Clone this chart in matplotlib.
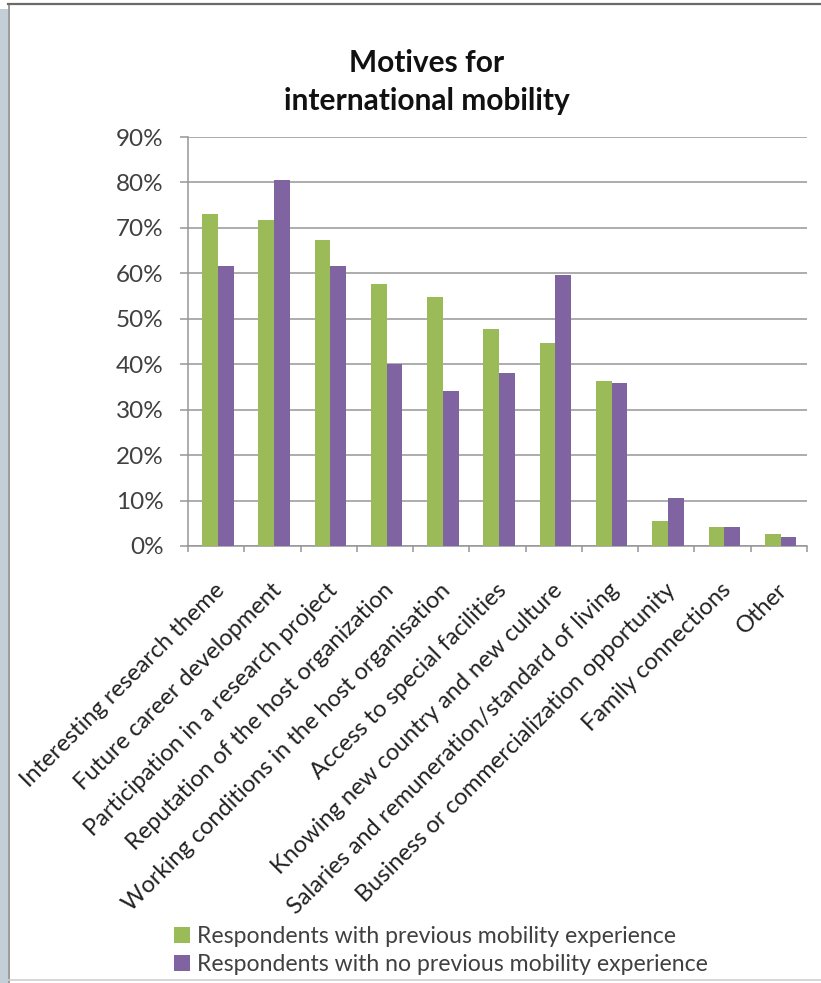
import matplotlib
matplotlib.use("Agg")
import matplotlib.pyplot as plt
import numpy as np
from matplotlib.patches import Rectangle
from matplotlib.lines import Line2D
from matplotlib.ticker import MultipleLocator, FuncFormatter
import matplotlib.transforms as mtransforms

plt.rcParams['font.family'] = ['Lato', 'DejaVu Sans']

categories = [
    "Interesting research theme",
    "Future career development",
    "Participation in a research project",
    "Reputation of the host organization",
    "Working conditions in the host organisation",
    "Access to special facilities",
    "Knowing new country and new culture",
    "Salaries and remuneration/standard of living",
    "Business or commercialization opportunity",
    "Family connections",
    "Other",
]
previous_mobility = [73.0, 71.7, 67.3, 57.7, 54.8, 47.8, 44.7, 36.4, 5.5, 4.1, 2.6]
no_previous_mobility = [61.6, 80.5, 61.6, 40.1, 34.0, 38.0, 59.6, 35.8, 10.5, 4.1, 2.0]
series_names = [
    "Respondents with previous mobility experience",
    "Respondents with no previous mobility experience",
]
title_text = "Motives for\ninternational mobility"

green = "#9BBB59"
purple = "#8064A2"
text_col = "#404040"
grid_col = "#969696"

W, H = 821, 983
fig = plt.figure(figsize=(W / 100, H / 100), dpi=100)
fig.patch.set_facecolor("white")

# window frame: blue-grey strip on the left, dark top rule, light bottom rule
fig.add_artist(Rectangle((0, 0), 8 / W, (H - 9) / H, transform=fig.transFigure,
                         facecolor="#C4CED7", edgecolor="none"))
fig.add_artist(Line2D([8.5 / W, 8.5 / W], [0, 1 - 4 / H], transform=fig.transFigure,
                      color="#8A8A8A", lw=1.2))
fig.add_artist(Line2D([8 / W, 1], [1 - 3.5 / H, 1 - 3.5 / H], transform=fig.transFigure,
                      color="#6A6A6A", lw=1.6))
fig.add_artist(Line2D([8 / W, 1], [3 / H, 3 / H], transform=fig.transFigure,
                      color="#D0D0D0", lw=1.2))

left, right = 188 / W, 807 / W
bottom, top = 1 - 546 / H, 1 - 137 / H
ax = fig.add_axes([left, bottom, right - left, top - bottom])

x = np.arange(len(categories))
bw = 0.28
ax.bar(x - bw / 2 + 0.03, previous_mobility, width=bw, color=green, zorder=3,
       label=series_names[0])
ax.bar(x + bw / 2 + 0.03, no_previous_mobility, width=bw, color=purple, zorder=3,
       label=series_names[1])

ax.set_xlim(-0.5, len(categories) - 0.5)
ax.set_ylim(0, 90)
ax.yaxis.set_major_locator(MultipleLocator(10))
ax.yaxis.set_major_formatter(FuncFormatter(lambda v, p: f"{int(round(v))}%"))
ax.yaxis.grid(True, color=grid_col, lw=1.1, zorder=0)
ax.set_axisbelow(True)

for s in ["top", "right"]:
    ax.spines[s].set_visible(False)
for s in ["left", "bottom"]:
    ax.spines[s].set_color(grid_col)
    ax.spines[s].set_linewidth(1.1)

ax.tick_params(axis="y", length=5.5, width=1.1, color=grid_col, labelsize=17.5,
               labelcolor=text_col, pad=12)
# category boundary ticks on the x axis
ax.set_xticks(np.arange(len(categories) + 1) - 0.5, minor=True)
ax.tick_params(axis="x", which="minor", length=4.5, width=1.1, color=grid_col)
ax.set_xticks(x)
ax.set_xticklabels(categories, rotation=45, ha="right", va="top",
                   rotation_mode="anchor", fontsize=17, color="#222222")
ax.tick_params(axis="x", which="major", length=0, pad=24)
offset = mtransforms.ScaledTranslation(-2 / 100, 0, fig.dpi_scale_trans)
for lbl in ax.get_xticklabels():
    lbl.set_transform(lbl.get_transform() + offset)

fig.text(427 / W, 1 - 82 / H, title_text, ha="center", va="center",
         fontsize=21.5, fontweight="bold", color="#111111", linespacing=1.45)

handles = [Rectangle((0, 0), 1, 1, facecolor=green),
           Rectangle((0, 0), 1, 1, facecolor=purple)]
fig.legend(handles, series_names, loc="upper left",
           bbox_to_anchor=(165 / W, 1 - 917 / H), frameon=False,
           fontsize=16.6, handlelength=0.7, handleheight=0.7,
           handletextpad=0.3, labelspacing=0.28, borderaxespad=0,
           labelcolor=text_col)

fig.savefig("out.png", dpi=100)
